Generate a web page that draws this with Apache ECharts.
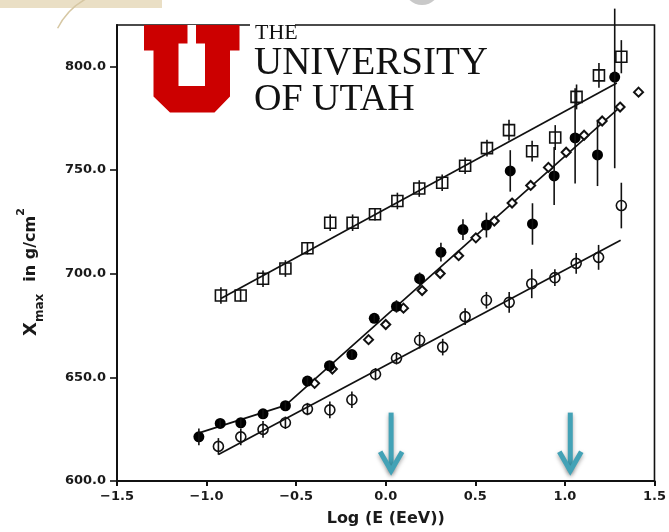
<!DOCTYPE html>
<html><head><meta charset="utf-8">
<script src="https://cdn.jsdelivr.net/npm/echarts/dist/echarts.min.js"></script>
<style>html,body{margin:0;padding:0;background:#fff}#c{width:669px;height:532px}</style>
</head><body><div id="c"></div>
<script>
// ---- data ----
const xTicks = [-1.5, -1.0, -0.5, 0.0, 0.5, 1.0, 1.5];
const yTicks = [600, 650, 700, 750, 800];

// open squares
const sqX = [-0.92,-0.81,-0.685,-0.56,-0.437,-0.31,-0.185,-0.06,0.065,0.187,0.315,0.443,0.565,0.688,0.817,0.946,1.065,1.19,1.315];
const sqY = [689.5,689.5,697.6,702.5,712.3,724.6,724.6,728.7,735.1,741.1,743.9,752.1,760.6,769.3,759.1,765.7,785.3,795.7,804.7];
const sqErr = [4,3,4,4,3,4,4,3,4,4,4,4,4,5,5,6,6,6,8];

// filled circles
const fcX = [-1.043,-0.924,-0.809,-0.685,-0.56,-0.437,-0.314,-0.189,-0.064,0.06,0.189,0.308,0.431,0.562,0.695,0.819,0.94,1.057,1.182,1.278];
const fcY = [621.3,627.8,628.1,632.4,636.3,648.2,655.6,661.0,678.5,684.2,697.6,710.4,721.3,723.5,749.6,724.0,747.2,765.5,757.3,794.9];
const fcErrLo = [4,2,2,2,2,2,2,2,2,3,3,4.5,5,6,10,10,14,22,15,44];
const fcErrHi = [4,2,2,2,2,2,2,2,2,3,3,4.5,5,6,10,10,14,24,17,33];

// open diamonds
const dmX = [-0.397,-0.298,-0.096,0.0,0.099,0.203,0.304,0.407,0.503,0.606,0.705,0.809,0.908,1.007,1.107,1.208,1.308,1.411];
const dmY = [647.1,654.0,668.2,675.5,683.4,691.9,700.1,708.7,717.3,725.4,734.1,742.6,751.3,758.6,766.8,773.7,780.4,787.6];

// open circles
const ocX = [-0.934,-0.809,-0.685,-0.56,-0.437,-0.312,-0.189,-0.057,0.06,0.189,0.318,0.443,0.562,0.689,0.815,0.944,1.063,1.188,1.315];
const ocY = [616.7,621.3,624.9,628.1,634.7,634.3,639.2,651.5,659.2,667.9,664.6,679.3,687.2,686.2,695.2,698.1,705.0,707.9,732.9];
const ocErr = [4,4,4,3,3,4,4,3,3,4,4,4,4,5,7,4,5,6,11];

// fitted lines
const topLineX = [-0.92, 1.29];
const topLineY = [688, 792];
const midLineX = [-1.05, -0.56, 1.306];
const midLineY = [623, 636.5, 780.3];
const botLineX = [-0.934, 1.311];
const botLineY = [612.8, 716.1];

// annotation arrows (x position, top, tip)
const arrowX = [0.03, 1.03];
const arrowTop = 633;
const arrowTip = 603.5;

// ---- build ----
const zip = (xs, ys) => xs.map((x, i) => [x, ys[i]]);
const INK = '#111';
const FONT = 'DejaVu Sans';

function errSeries(xs, ys, lo, hi) {
  return {
    type: 'custom', z: 5, clip: false, silent: true,
    data: xs.map((x, i) => [x, ys[i], lo[i], hi[i]]),
    renderItem: (params, api) => {
      const x = api.value(0), y = api.value(1);
      const p1 = api.coord([x, y - api.value(2)]);
      const p2 = api.coord([x, y + api.value(3)]);
      return { type: 'line', shape: { x1: p1[0], y1: p1[1], x2: p2[0], y2: p2[1] },
               style: { stroke: INK, lineWidth: 1.6 } };
    }
  };
}
function lineSeries(xs, ys) {
  return { type: 'line', data: zip(xs, ys), symbol: 'none', z: 2, silent: true,
           lineStyle: { color: INK, width: 1.7 } };
}
const openStyle = { color: 'rgba(255,255,255,0)', borderColor: INK, borderWidth: 1.6, opacity: 1 };

const option = {
  backgroundColor: '#fff',
  animation: false,
  grid: { left: 117, right: 13, top: 25, bottom: 50, show: true, borderColor: INK, borderWidth: 1.6, backgroundColor: 'transparent' },
  xAxis: {
    type: 'value', min: -1.5, max: 1.5, interval: 0.5,
    splitLine: { show: false },
    axisLine: { onZero: false, lineStyle: { color: INK, width: 2 } },
    axisTick: { length: 5, lineStyle: { color: INK, width: 2 } },
    axisLabel: { showMinLabel: true, showMaxLabel: true, margin: 9, color: '#1a1a1a',
      fontFamily: FONT, fontWeight: 'bold', fontSize: 13,
      formatter: v => v.toFixed(1).replace('-', '\u2212') },
    name: 'Log (E (EeV))', nameLocation: 'middle', nameGap: 30,
    nameTextStyle: { fontFamily: FONT, fontWeight: 'bold', fontSize: 16, color: '#1a1a1a' }
  },
  yAxis: {
    type: 'value', min: 600, max: 820, interval: 50,
    splitLine: { show: false },
    axisLine: { onZero: false, lineStyle: { color: INK, width: 2 } },
    axisTick: { length: 7, lineStyle: { color: INK, width: 1.6 }, customValues: yTicks },
    axisLabel: { margin: 11, color: '#1a1a1a', fontFamily: FONT, fontWeight: 'bold', fontSize: 13,
      customValues: yTicks, formatter: v => (v % 50 === 0 && v <= 800) ? v.toFixed(1) : '' }
  },
  series: [
    lineSeries(topLineX, topLineY),
    lineSeries(midLineX, midLineY),
    lineSeries(botLineX, botLineY),
    { type: 'scatter', data: zip(sqX, sqY), symbol: 'rect', symbolSize: 11, z: 4, itemStyle: openStyle },
    { type: 'scatter', data: zip(ocX, ocY), symbol: 'circle', symbolSize: 10, z: 4, itemStyle: openStyle },
    { type: 'scatter', data: zip(dmX, dmY), symbol: 'diamond', symbolSize: 9, z: 4,
      itemStyle: { color: '#fff', borderColor: INK, borderWidth: 2, opacity: 1 } },
    { type: 'scatter', data: zip(fcX, fcY), symbol: 'circle', symbolSize: 11, z: 4, itemStyle: { color: '#000', opacity: 1 } },
    errSeries(sqX, sqY, sqErr, sqErr),
    errSeries(ocX, ocY, ocErr, ocErr),
    errSeries(fcX, fcY, fcErrLo, fcErrHi),
    {
      type: 'custom', z: 10, clip: false, silent: true,
      data: arrowX.map(x => [x, arrowTop, arrowTip]),
      renderItem: (params, api) => {
        const t = api.coord([api.value(0), api.value(1)]);
        const b = api.coord([api.value(0), api.value(2)]);
        const st = { stroke: '#43a2b6', lineWidth: 5, lineCap: 'butt', lineJoin: 'miter', fill: null,
                     shadowBlur: 4, shadowColor: 'rgba(0,0,0,0.35)', shadowOffsetY: 2 };
        return { type: 'group', children: [
          { type: 'line', shape: { x1: t[0], y1: t[1], x2: b[0], y2: b[1] - 3 }, style: st },
          { type: 'polyline', shape: { points: [[b[0] - 11, b[1] - 22], [b[0], b[1] - 3], [b[0] + 11, b[1] - 22]] }, style: st }
        ]};
      }
    }
  ],
  graphic: [
    { type: 'rect', shape: { x: 0, y: 0, width: 162, height: 8 }, style: { fill: '#eadfc5' }, z: 100 },
    { type: 'arc', shape: { cx: 120, cy: 60, r: 70, startAngle: Math.PI * 1.15, endAngle: Math.PI * 1.55 }, style: { stroke: '#d6c7a3', lineWidth: 1.5, fill: null }, z: 101 },
    { type: 'circle', shape: { cx: 422, cy: -13, r: 18 }, style: { fill: '#c9c9c9' }, z: 100 },
    // University of Utah block U
    { type: 'polygon', z: 100, shape: { points: [[144,25],[239.5,25],[239.5,50.5],[230,50.5],[230,96.5],[214.5,112.5],[170,112.5],[153.5,96.5],[153.5,50.5],[144,50.5]] }, style: { fill: '#cc0000' } },
    { type: 'polygon', z: 101, shape: { points: [[187.5,25],[196,25],[196,43.5],[205,43.5],[205,86],[178.5,86],[178.5,43.5],[187.5,43.5]] }, style: { fill: '#fff' } },
    { type: 'rect', z: 100, shape: { x: 250, y: 24, width: 45, height: 3 }, style: { fill: '#fff' } },
    { type: 'text', z: 102, x: 255, y: 33.5, style: { text: 'THE', fontFamily: 'Liberation Serif', fontSize: 22, fill: '#111', verticalAlign: 'middle' } },
    { type: 'text', z: 102, x: 254, y: 64, style: { text: 'UNIVERSITY', fontFamily: 'Liberation Serif', fontSize: 39, fill: '#111', verticalAlign: 'middle' } },
    { type: 'text', z: 102, x: 254, y: 100, style: { text: 'OF UTAH', fontFamily: 'Liberation Serif', fontSize: 38, fill: '#111', verticalAlign: 'middle' } },
    // y axis title
    { type: 'text', z: 102, x: 31, y: 272, rotation: Math.PI / 2,
      style: { text: '{a|X}{b|max}{c|in g/cm}{d|2}', align: 'center', verticalAlign: 'middle', fill: '#1a1a1a',
        rich: {
          a: { fontFamily: FONT, fontWeight: 'bold', fontSize: 18, lineHeight: 30, verticalAlign: 'middle', fill: '#1a1a1a' },
          b: { fontFamily: FONT, fontWeight: 'bold', fontSize: 12, verticalAlign: 'bottom', fill: '#1a1a1a' },
          c: { fontFamily: FONT, fontWeight: 'bold', fontSize: 16, verticalAlign: 'middle', padding: [0, 0, 0, 12], fill: '#1a1a1a' },
          d: { fontFamily: FONT, fontWeight: 'bold', fontSize: 11, verticalAlign: 'top', fill: '#1a1a1a' }
        } } }
  ]
};
const chart = echarts.init(document.getElementById('c'), null, { renderer: 'canvas' });
chart.setOption(option);
</script>
</body></html>
